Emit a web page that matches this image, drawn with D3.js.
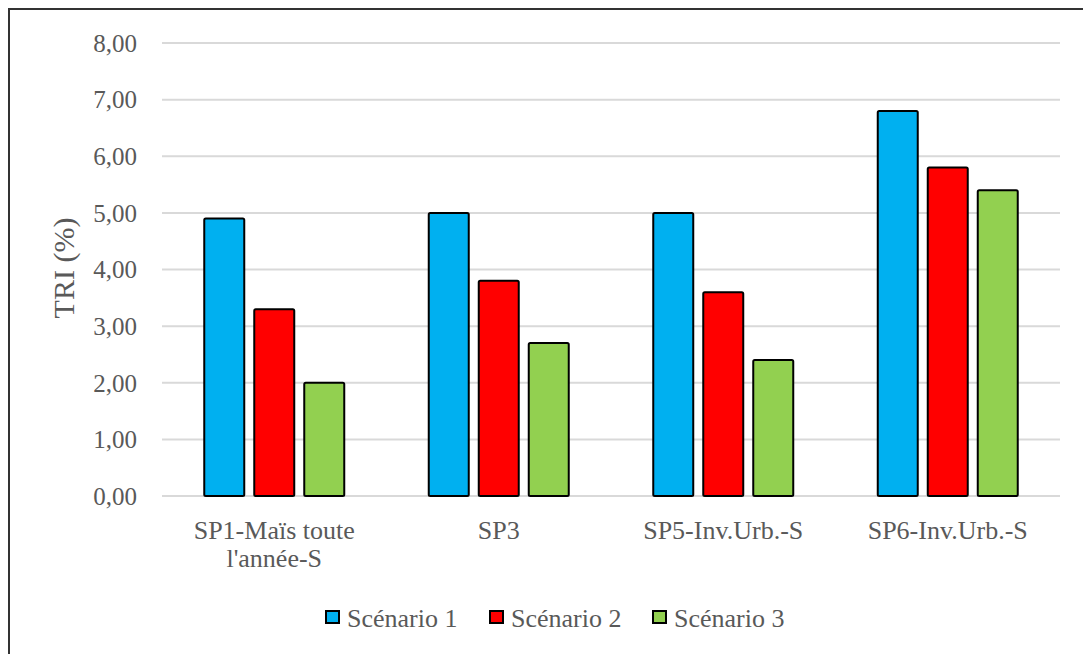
<!DOCTYPE html>
<html><head><meta charset="utf-8">
<script src="https://cdn.jsdelivr.net/npm/d3@7"></script>
<style>body{margin:0;background:#fff}svg{display:block}</style>
</head><body><svg id="c" width="1083" height="654"></svg>
<script>
const categories = [["SP1-Maïs toute","l'année-S"],["SP3"],["SP5-Inv.Urb.-S"],["SP6-Inv.Urb.-S"]];
const seriesNames = ["Scénario 1","Scénario 2","Scénario 3"];
const scenario1 = [4.9, 5.0, 5.0, 6.8];
const scenario2 = [3.3, 3.8, 3.6, 5.8];
const scenario3 = [2.0, 2.7, 2.4, 5.4];
const yTicks = [0,1,2,3,4,5,6,7,8];
const colors = ["#00b0f0","#ff0000","#92d050"];
const series = [scenario1, scenario2, scenario3];

const svg = d3.select("#c");
const font = "'Liberation Serif','Times New Roman',serif";
const textColor = "#595959";

// frame
svg.append("path").attr("d","M9,660 V9 H1090").attr("fill","none").attr("stroke","#333").attr("stroke-width",2);

const x0 = d3.scaleBand().domain(d3.range(categories.length)).range([162,1060]);
const y = d3.scaleLinear().domain([0,8]).range([496,43]);

// gridlines
svg.append("g").selectAll("line").data(yTicks).join("line")
  .attr("x1",162).attr("x2",1060).attr("y1",d=>y(d)).attr("y2",d=>y(d))
  .attr("stroke","#d9d9d9").attr("stroke-width",2);

// y labels
svg.append("g").selectAll("text").data(yTicks).join("text")
  .attr("x",137).attr("y",d=>y(d)).attr("dy","0.35em").attr("text-anchor","end")
  .attr("font-family",font).attr("font-size",25).attr("fill",textColor)
  .text(d=>d3.format(".2f")(d).replace(".",","));

// y title
svg.append("text").attr("transform","translate(74,268) rotate(-90)")
  .attr("text-anchor","middle").attr("font-family",font).attr("font-size",30).attr("fill",textColor)
  .text("TRI (%)");

// bars
const barW = 40, gap = 10;
series.forEach((vals,si)=>{
  svg.append("g").selectAll("rect").data(vals).join("rect")
    .attr("x",(d,i)=>x0(i)+x0.bandwidth()/2 + (si-1)*(barW+gap) - barW/2)
    .attr("y",d=>y(d))
    .attr("width",barW)
    .attr("height",d=>y(0)-y(d))
    .attr("rx",1.5)
    .attr("fill",colors[si]).attr("stroke","#000").attr("stroke-width",2);
});

// category labels
categories.forEach((lines,i)=>{
  const t = svg.append("text").attr("text-anchor","middle")
    .attr("font-family",font).attr("font-size",26).attr("fill",textColor);
  lines.forEach((l,j)=>{
    t.append("tspan").attr("x",x0(i)+x0.bandwidth()/2).attr("y",539+j*28).text(l);
  });
});

// legend
const legX = [326,490,653];
seriesNames.forEach((n,i)=>{
  svg.append("rect").attr("x",legX[i]).attr("y",611).attr("width",13).attr("height",12)
    .attr("fill",colors[i]).attr("stroke","#000").attr("stroke-width",2);
  svg.append("text").attr("x",legX[i]+21).attr("y",618).attr("dy","0.35em")
    .attr("font-family",font).attr("font-size",26).attr("fill",textColor).text(n);
});
</script></body></html>
